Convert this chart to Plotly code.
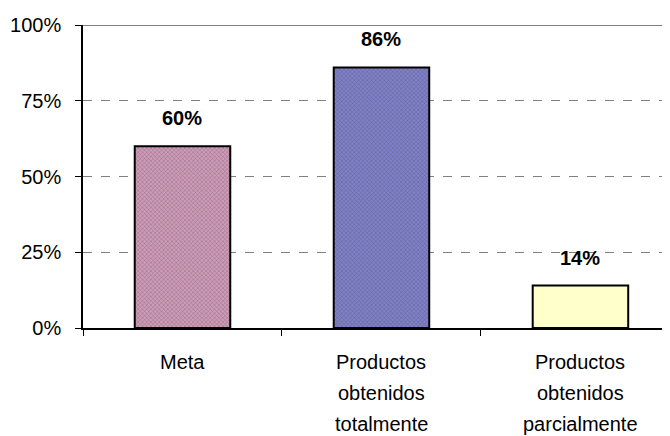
import plotly.graph_objects as go

categories = ["Meta", "Productos obtenidos totalmente", "Productos obtenidos parcialmente"]
cat_lines = [["Meta"], ["Productos", "obtenidos", "totalmente"], ["Productos", "obtenidos", "parcialmente"]]
values = [0.60, 0.86, 0.14]
labels = ["60%", "86%", "14%"]
colors = ["#CF9AB8", "#7F7FCA", "#FFFFCC"]
pattern_fg = ["#B07090", "#5A5AA8", "#FFFFCC"]
ytick_vals = [0, 0.25, 0.5, 0.75, 1.0]
ytick_text = ["0%", "25%", "50%", "75%", "100%"]

FONT = "Liberation Sans, Arial, sans-serif"

fig = go.Figure()
fig.add_trace(go.Bar(
    x=categories, y=values, width=0.48,
    marker=dict(color=colors, line=dict(color="black", width=2),
                pattern=dict(shape=["x", "x", ""], size=3, solidity=0.25,
                             fgcolor=pattern_fg, fgopacity=0.6)),
    hoverinfo="skip",
))

for c, v, t in zip(categories, values, labels):
    fig.add_annotation(x=c, y=v, text="<b>" + t + "</b>", showarrow=False,
                       yanchor="middle", yshift=28,
                       font=dict(family=FONT, size=20, color="black"))

for c, lines in zip(categories, cat_lines):
    for i, ln in enumerate(lines):
        fig.add_annotation(x=c, y=0, yref="y", text=ln, showarrow=False,
                           yanchor="middle", yshift=-34 - 31 * i,
                           font=dict(family=FONT, size=20, color="black"))

fig.add_shape(type="line", xref="paper", yref="y", x0=0, x1=1, y0=1, y1=1,
              line=dict(color="#808080", width=2))

fig.update_layout(
    width=662, height=428,
    margin=dict(l=75, r=0, t=17, b=108),
    paper_bgcolor="white", plot_bgcolor="white",
    showlegend=False,
    font=dict(family=FONT, size=20, color="black"),
)
fig.update_xaxes(
    type="category", range=[-0.5, 2.45],
    showticklabels=False, tickson="boundaries",
    ticks="outside", ticklen=6, tickcolor="black", tickwidth=1,
    showline=True, linecolor="black", linewidth=1.5,
    showgrid=False, zeroline=False,
)
fig.update_yaxes(
    range=[0, 1.0], tickvals=ytick_vals, ticktext=ytick_text,
    ticks="outside", ticklen=6, tickcolor="black",
    showline=True, linecolor="black", linewidth=1.5,
    showgrid=True, gridcolor="#808080", griddash="dash", gridwidth=1,
    zeroline=False, ticklabelstandoff=10,
    tickfont=dict(family=FONT, size=20, color="black"),
)

fig.write_html("out.html")
